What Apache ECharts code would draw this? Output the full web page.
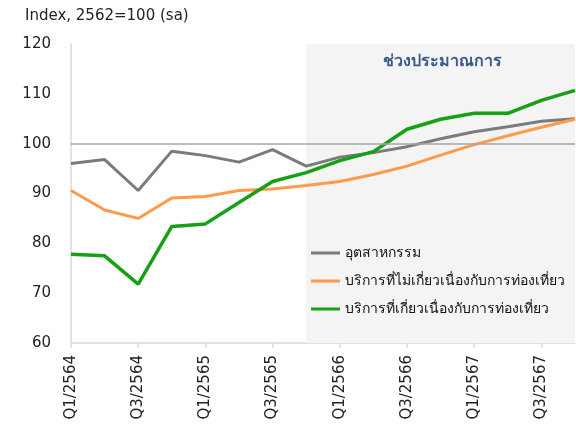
<!DOCTYPE html>
<html>
<head>
<meta charset="utf-8">
<script src="https://cdn.jsdelivr.net/npm/echarts@6/dist/echarts.min.js"></script>
<style>
  html, body { margin: 0; padding: 0; background: #fff; }
  #chart { width: 576px; height: 429px; }
</style>
</head>
<body>
<div id="chart"></div>
<script>
// ไตรมาส
const quarters = [
    'Q1/2564', 'Q2/2564', 'Q3/2564', 'Q4/2564',
    'Q1/2565', 'Q2/2565', 'Q3/2565', 'Q4/2565',
    'Q1/2566', 'Q2/2566', 'Q3/2566', 'Q4/2566',
    'Q1/2567', 'Q2/2567', 'Q3/2567', 'Q4/2567'
];

// ค่าดัชนี (อ่านจากภาพ)
const industry = [96.0, 96.8, 90.6, 98.5, 97.6, 96.3, 98.8, 95.5, 97.3, 98.2, 99.4, 101.0, 102.4, 103.4, 104.5, 105.0];
const nonTourism = [90.6, 86.7, 85.0, 89.1, 89.4, 90.6, 90.9, 91.6, 92.4, 93.8, 95.5, 97.7, 99.8, 101.6, 103.3, 104.9];
const tourism = [77.8, 77.5, 71.8, 83.4, 83.9, 88.2, 92.4, 94.2, 96.6, 98.4, 102.9, 104.9, 106.1, 106.1, 108.7, 110.7];

const seriesNames = ['อุตสาหกรรม', 'บริการที่ไม่เกี่ยวเนื่องกับการท่องเที่ยว', 'บริการที่เกี่ยวเนื่องกับการท่องเที่ยว'];
const forecastRange = ['Q4/2565', 'Q4/2567'];

const FONT = 'DejaVu Sans, Noto Sans, sans-serif';

const chart = echarts.init(document.getElementById('chart'));

chart.setOption({
    animation: false,
    title: [
        {
            text: 'Index, 2562=100 (sa)',
            left: 20, top: 4,
            textStyle: { fontFamily: FONT, fontSize: 15, fontWeight: 'normal', color: '#222' }
        },
        {
            text: 'ช่วงประมาณการ',
            left: 437, top: 49, textAlign: 'center',
            textStyle: { fontFamily: FONT, fontSize: 16, fontWeight: 'bold', color: '#3b5a8c' }
        }
    ],
    legend: {
        orient: 'vertical',
        left: 306, top: 239,
        icon: 'rect',
        itemWidth: 29, itemHeight: 3,
        itemGap: 10,
        textStyle: { fontFamily: FONT, fontSize: 14, color: '#111', lineHeight: 18 },
        data: seriesNames
    },
    grid: { left: 71, right: 1, top: 44, bottom: 86 },
    xAxis: {
        type: 'category',
        data: quarters,
        boundaryGap: false,
        axisLine: { lineStyle: { color: '#d9d9d9', width: 1.5 } },
        axisTick: { interval: 1, length: 5, lineStyle: { color: '#d9d9d9', width: 1.5 } },
        axisLabel: {
            interval: 1, rotate: 90, margin: 12,
            fontFamily: FONT, fontSize: 15, color: '#222'
        },
        splitLine: { show: false }
    },
    yAxis: {
        type: 'value',
        min: 60, max: 120, interval: 10,
        axisLine: { show: true, lineStyle: { color: '#d9d9d9', width: 1.5 } },
        axisTick: { show: false },
        axisLabel: { margin: 20, fontFamily: FONT, fontSize: 15, color: '#222' },
        splitLine: { show: false }
    },
    series: [
        {
            // พื้นหลังช่วงประมาณการ + เส้น 100
            type: 'line',
            data: [],
            z: 1,
            silent: true,
            markArea: {
                silent: true,
                itemStyle: { color: '#f4f4f4' },
                data: [[{ xAxis: forecastRange[0] }, { xAxis: forecastRange[1] }]]
            },
            markLine: {
                silent: true,
                symbol: 'none',
                label: { show: false },
                lineStyle: { color: '#a6a6a6', width: 1.5, type: 'solid' },
                data: [{ yAxis: 100 }]
            }
        },
        {
            name: seriesNames[0], type: 'line', data: industry,
            showSymbol: false, z: 3,
            itemStyle: { color: '#7b7b7b' },
            lineStyle: { color: '#7b7b7b', width: 3 }
        },
        {
            name: seriesNames[1], type: 'line', data: nonTourism,
            showSymbol: false, z: 3,
            itemStyle: { color: '#ff9a4a' },
            lineStyle: { color: '#ff9a4a', width: 3 }
        },
        {
            name: seriesNames[2], type: 'line', data: tourism,
            showSymbol: false, z: 4,
            itemStyle: { color: '#15a015' },
            lineStyle: { color: '#15a015', width: 3.5 }
        }
    ]
});
</script>
</body>
</html>
